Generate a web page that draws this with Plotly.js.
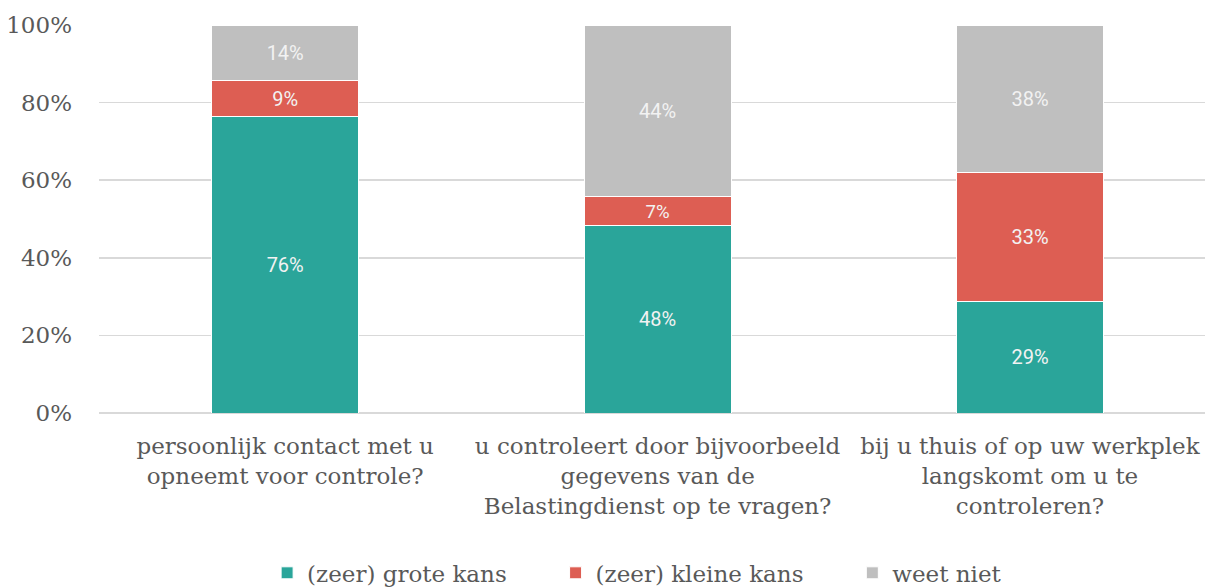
<!DOCTYPE html>
<html>
<head>
<meta charset="utf-8">
<script src="https://cdn.plot.ly/plotly-3.0.1.min.js"></script>
<style>html,body{margin:0;padding:0;background:#fff;}#chart{width:1205px;height:587px;}</style>
</head>
<body>
<div id="chart"></div>
<script>
const categories = [
  "persoonlijk contact met u<br>opneemt voor controle?",
  "u controleert door bijvoorbeeld<br>gegevens van de<br>Belastingdienst op te vragen?",
  "bij u thuis of op uw werkplek<br>langskomt om u te<br>controleren?"
];
const seriesNames = ["(zeer) grote kans", "(zeer) kleine kans", "weet niet"];
const grote = [76.4, 48.4, 28.8];
const kleine = [9.3, 7.3, 33.1];
const weetNiet = [14.3, 44.3, 38.1];
const colors = ["#2aa59a", "#dd5e53", "#bfbfbf"];
const yTickVals = [0, 20, 40, 60, 80, 100];
const yTickText = ["0%", "20%", "40%", "60%", "80%", "100%"];

const nb = "\u00a0";
const pad = [nb.repeat(6), nb.repeat(6), ""];
const xs = [0, 1, 2];
const allValues = [grote, kleine, weetNiet];
const traces = allValues.map((vals, i) => ({
  type: "bar",
  name: seriesNames[i] + pad[i],
  x: xs,
  y: vals,
  marker: {color: colors[i], line: {color: "#ffffff", width: 1}},
  texttemplate: "%{y:.0f}%",
  textposition: "inside",
  insidetextanchor: "middle",
  textfont: {family: "Roboto, 'Open Sans', sans-serif", size: 20, color: "#f2f2f2"},
  hoverinfo: "skip"
}));

const serif = "'DejaVu Serif', serif";
const layout = {
  width: 1205, height: 587,
  margin: {l: 99, r: 0, t: 25, b: 174, autoexpand: false},
  barmode: "stack",
  bargap: 0.605,
  paper_bgcolor: "#ffffff",
  plot_bgcolor: "#ffffff",
  showlegend: true,
  legend: {
    orientation: "h", x: 0.152, xanchor: "left", y: -0.412, yanchor: "middle",
    font: {family: serif, size: 23, color: "#595959"},
    traceorder: "normal"
  },
  xaxis: {
    tickvals: xs, ticktext: categories,
    range: [-0.5, 2.47],
    automargin: false,
    showgrid: false, zeroline: false, showline: false, ticks: "",
    ticklabelstandoff: 17,
    tickfont: {family: serif, size: 23, color: "#595959"},
    fixedrange: true
  },
  yaxis: {
    range: [0, 100],
    automargin: false,
    tickvals: yTickVals,
    ticktext: yTickText,
    showgrid: true, gridcolor: "#d9d9d9", gridwidth: 1.5,
    zeroline: true, zerolinecolor: "#d9d9d9", zerolinewidth: 1.5,
    showline: false, ticks: "",
    ticklabelstandoff: 26,
    tickfont: {family: serif, size: 23, color: "#595959"},
    fixedrange: true
  }
};

Plotly.newPlot("chart", traces, layout, {displayModeBar: false, staticPlot: true});
</script>
</body>
</html>
